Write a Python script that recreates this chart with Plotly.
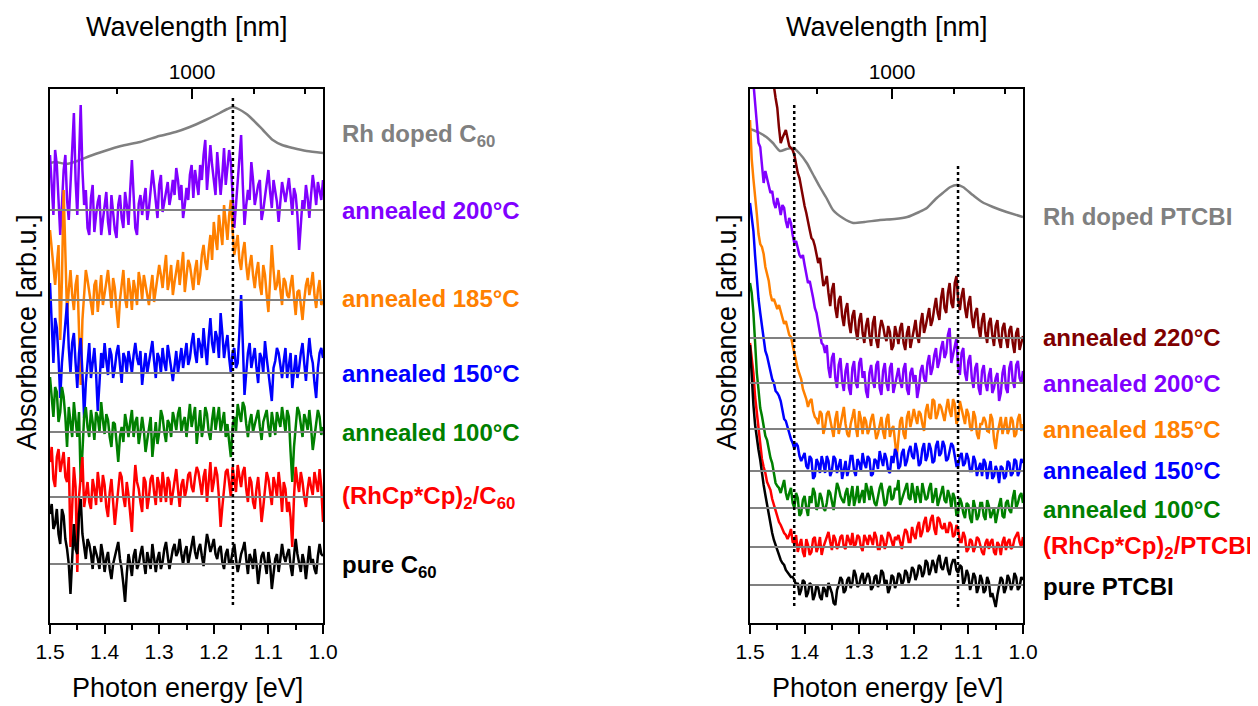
import plotly.graph_objects as go

# ---------------- data ----------------
# main sampling grid (eV) and the in-between grid
ENERGY = [1.5, 1.49375, 1.4875, 1.48125, 1.475, 1.46875, 1.4625, 1.45625, 1.45, 1.44375,
          1.4375, 1.43125, 1.425, 1.41875, 1.4125, 1.40625, 1.4, 1.39375, 1.3875, 1.38125,
          1.375, 1.36875, 1.3625, 1.35625, 1.35, 1.34375, 1.3375, 1.33125, 1.325, 1.31875,
          1.3125, 1.30625, 1.3, 1.29375, 1.2875, 1.28125, 1.275, 1.26875, 1.2625, 1.25625,
          1.25, 1.24375, 1.2375, 1.23125, 1.225, 1.21875, 1.2125, 1.20625, 1.2, 1.19375,
          1.1875, 1.18125, 1.175, 1.16875, 1.1625, 1.15625, 1.15, 1.14375, 1.1375, 1.13125,
          1.125, 1.11875, 1.1125, 1.10625, 1.1, 1.09375, 1.0875, 1.08125, 1.075, 1.06875,
          1.0625, 1.05625, 1.05, 1.04375, 1.0375, 1.03125, 1.025, 1.01875, 1.0125, 1.00625, 1.0]
ENERGY_MID = [1.496875, 1.490625, 1.484375, 1.478125, 1.471875, 1.465625, 1.459375, 1.453125, 1.446875, 1.440625,
              1.434375, 1.428125, 1.421875, 1.415625, 1.409375, 1.403125, 1.396875, 1.390625, 1.384375, 1.378125,
              1.371875, 1.365625, 1.359375, 1.353125, 1.346875, 1.340625, 1.334375, 1.328125, 1.321875, 1.315625,
              1.309375, 1.303125, 1.296875, 1.290625, 1.284375, 1.278125, 1.271875, 1.265625, 1.259375, 1.253125,
              1.246875, 1.240625, 1.234375, 1.228125, 1.221875, 1.215625, 1.209375, 1.203125, 1.196875, 1.190625,
              1.184375, 1.178125, 1.171875, 1.165625, 1.159375, 1.153125, 1.146875, 1.140625, 1.134375, 1.128125,
              1.121875, 1.115625, 1.109375, 1.103125, 1.096875, 1.090625, 1.084375, 1.078125, 1.071875, 1.065625,
              1.059375, 1.053125, 1.046875, 1.040625, 1.034375, 1.028125, 1.021875, 1.015625, 1.009375, 1.003125]

# ---- C60 panel (offset = baseline level, values = spectrum relative to its baseline) ----
C60_RH_E = [1.5, 1.49, 1.47, 1.45, 1.427, 1.40, 1.37, 1.335, 1.30, 1.27, 1.244, 1.215,
            1.189, 1.175, 1.165, 1.155, 1.14, 1.128, 1.11, 1.092, 1.075, 1.055, 1.03, 1.0]
C60_RH_Y = [460, 461, 459, 462, 467, 472, 477, 481, 487, 491, 496, 503,
            510, 514, 516, 514, 509, 503, 493, 483, 478, 475, 472, 470]

C60_OFFSETS = [413, 323, 250, 191, 126, 59]

C60_200 = [55, -5, 45, -25, 40, 10, 35, 97, -5, 105, 5, -18, 12, -22, 8, -25, 3, -12, 15, -20,
           5, -8, 18, -15, 50, -18, 6, -5, 22, 2, 40, 8, 25, -2, 18, 5, 30, 42, 10, -8,
           22, 35, 12, 28, 45, 55, 20, 65, 30, 58, 15, 62, 40, 48, -18, 30, 75, -15, 20, 48,
           5, 25, -10, 15, 40, 2, 20, -12, 28, 8, 32, -5, 15, -40, 10, 25, -8, 35, 5, 20, 30]
C60_200_MID = [20, 60, 10, 5, 55, -10, 60, 30, 60, 40, 20, -25, 25, -5, 15, -10, 18, -25, 0, -28,
               15, -18, 5, 20, 15, -25, 15, 10, -10, 20, 25, -8, 35, 10, 28, 15, 15, 30, 25, 5,
               10, 45, 40, 15, 30, 70, 42, 45, 15, 40, 35, 25, 60, 20, 5, 45, 25, 5, 10, 30,
               15, 30, 0, 25, 18, 30, 8, 10, 18, 20, 15, 22, -5, -15, 0, 12, 15, 22, 28, 10]
C60_185 = [70, 30, 35, -40, 110, -15, 30, -10, 25, -85, 10, 20, -5, 15, -12, 25, 5, 30, -8, 12,
           -28, 18, 2, 22, -10, 10, 28, 0, 15, -5, 25, 10, 35, 12, 45, 20, 5, 28, 15, 48,
           22, 35, 10, 40, 25, 55, 30, 65, 78, 50, 70, 95, 60, 100, 45, 65, 30, 58, 20, 45,
           12, 38, 5, 25, -12, 55, 10, 30, -5, 18, 2, 25, -15, 10, -20, 15, 5, 28, -8, 20, 0]
C60_185_MID = [50, 15, 55, 20, 40, 10, 5, 15, -30, -20, 30, 8, -15, 20, 10, -5, 18, 10, 22, -10,
               0, 30, -8, 10, 20, -5, 18, 25, 5, 12, -2, 22, 25, 30, 10, 35, 18, 40, 30, 8,
               40, 20, 30, 15, 45, 38, 50, 40, 62, 85, 55, 75, 85, 70, 55, 40, 48, 35, 35, 25,
               28, 15, 35, 5, 20, 30, 15, 10, 22, 5, 15, 2, 8, -5, 0, 22, 15, 5, 10, -5]
C60_150 = [90, 10, 45, -25, 30, 70, 0, 40, -15, 35, -45, 15, -5, 25, -38, 20, 30, -2, 18, 5,
           28, -10, 15, 22, 0, 30, 8, -12, 20, 10, 32, -5, 15, 25, 2, 18, -8, 22, 12, 5,
           30, 15, 40, 10, 28, 45, 8, 55, 20, 35, 60, 15, 38, 0, 25, 10, 78, -22, 20, 5,
           25, -10, 15, 32, 0, -28, 12, 20, -5, 25, 8, -15, 18, 5, 30, -8, 35, 10, -25, 20, 15]
C60_150_MID = [40, 55, 15, 10, 45, 25, 30, 10, 20, 0, -10, 30, 10, 0, -10, 5, 12, 25, -5, 20,
               8, 20, 0, 12, 18, 15, 22, 5, 0, 22, 12, 20, 0, 10, 28, 5, 10, 0, 25, 18,
               8, 30, 20, 35, 15, 25, 35, 30, 42, 15, 40, 28, 15, 20, 5, 40, 30, 0, 30, 15,
               5, 20, 0, 15, -10, 5, 25, 8, 12, -5, 20, 5, -5, 20, 10, 15, 18, -10, 5, 25]
C60_100 = [55, 15, 40, 20, 35, -15, 10, 30, -5, -50, 15, 5, 22, -8, 15, 30, -2, 12, -15, 8,
           -30, 5, 18, -5, 22, 10, -12, 15, -20, 3, -25, 10, 0, 15, -10, 8, 20, 2, 25, 10,
           -5, 28, 15, -12, 22, 5, 18, -8, 25, 12, 0, 20, 8, -25, 15, 28, 10, 25, -5, 18,
           8, 22, -8, 15, 5, 20, -3, 12, 25, 0, 15, -50, 10, 20, -5, 12, 22, -18, 8, 15, 5]
C60_100_MID = [30, 45, 10, 45, 15, 25, -5, 15, 20, -20, 25, -5, 10, 20, 0, 12, 18, -5, 10, -10,
               -5, -10, 8, 10, -5, 15, 0, 2, -8, 15, -5, -12, 22, 0, 12, -5, 12, 18, 0, 15,
               12, 5, 25, 5, -5, 25, 0, 12, 2, 25, 10, -5, -10, 5, 0, 18, 30, 8, 10, 0,
               15, 5, 10, 22, -5, 8, 20, 5, 12, 22, -20, -15, 25, 5, 18, 2, 5, -5, 22, -3]
C60_DOPED = [35, 18, 40, 25, 45, 15, -50, 30, -75, 25, -10, 15, -12, 8, 25, -5, 12, -20, 18, -28,
             5, 20, -10, 2, -35, 32, 8, -15, 15, 0, 22, -8, 12, 25, -5, 15, 5, 28, -10, 18,
             8, 25, 5, 30, 12, 20, -5, 35, 15, 22, -30, 10, 28, 0, 18, 32, 10, 30, -5, 15,
             -12, 20, -25, 5, 18, -8, 12, 25, -15, 8, -5, -50, 30, 5, 15, -10, 20, 2, 15, 28, -25]
C60_DOPED_MID = [50, 10, 48, 35, 20, 40, -10, 10, 0, 40, 5, -5, 18, -8, 10, 22, -10, 5, -5, -10,
                 25, 0, 15, -20, 5, 15, -5, 20, -12, 18, 5, 20, -5, 10, 20, -8, 20, 8, 12, 0,
                 22, 10, 20, 25, 2, 28, 18, 5, 30, 0, -10, 25, 10, 30, 5, 20, 25, 8, 20, -5,
                 8, 0, -10, 25, 5, 20, 0, 10, 15, -15, -20, 0, 15, 25, 0, 8, 10, 25, 5, 10]
C60_PURE = [50, 35, 55, 20, 48, 15, -30, 40, 10, 65, 15, 25, 10, 18, 5, 20, -8, 12, -15, 8,
            22, -5, -38, 10, -12, 15, 0, 18, -10, 5, 20, -8, 12, 2, 22, -5, 15, 8, 25, 0,
            18, 10, 28, 5, 20, -2, 30, 12, 25, 5, 18, -5, 15, 2, 20, -8, 10, 22, -10, 5,
            15, -20, 8, 0, 12, -25, 5, -8, 20, 2, 15, -12, 25, 0, 10, -15, 18, 5, -10, 20, 8]
C60_PURE_MID = [60, 40, 30, 55, 25, 0, 10, 15, 50, 30, 5, 20, -5, 12, -5, 10, 5, -5, 0, 15,
                5, -20, -10, 0, 8, -5, 10, 2, 12, -5, 8, 5, -5, 15, 8, 5, 20, 12, 10, 12,
                0, 22, 12, 15, 8, 15, 22, 18, 10, 15, 2, 10, 0, 12, 5, 0, 15, 5, 10, -5,
                0, -5, 12, -10, 0, -10, 10, 5, 8, 10, -2, 8, 10, -8, 2, 5, 0, -5, 8, 10]

C60_PEAK_E = [1.165]
C60_PEAK_Y = [525, 17]

# ---- PTCBI panel ----
PT_RH_E = [1.5, 1.49, 1.482, 1.47, 1.458, 1.445, 1.433, 1.421, 1.41, 1.396, 1.385, 1.372,
           1.36, 1.348, 1.33, 1.311, 1.29, 1.262, 1.235, 1.212, 1.19, 1.176, 1.16, 1.147,
           1.133, 1.121, 1.11, 1.092, 1.075, 1.055, 1.03, 1.0]
PT_RH_Y = [494, 492, 490, 486, 480, 472, 474, 475, 470, 460, 449, 436,
           425, 413, 405, 400, 401, 403, 404, 406, 411, 415, 424, 430,
           436, 438, 436, 428, 421, 416, 411, 406]

PT_OFFSETS = [285, 240, 194, 152, 115, 76, 38]

PT_220 = [330, 320, 310, 300, 290, 275, 262, 252, 230, 195, 205, 200, 190, 183, 165, 150, 132, 115, 100, 92,
          75, 65, 55, 45, 48, 30, 38, 22, 28, 15, 22, 8, 18, 5, 12, 3, 15, -2, 8, 12,
          -3, 6, -8, 4, 10, -5, 5, -10, 8, 2, 15, 5, 22, 12, 30, 25, 40, 30, 45, 35,
          55, 38, 42, 30, 35, 20, 25, 10, 18, 5, 15, 3, 12, -2, 10, 0, 8, -5, 5, -12, 2]
PT_220_MID = [325, 315, 305, 295, 282, 268, 258, 240, 210, 200, 208, 192, 188, 172, 160, 140, 125, 108, 98, 82,
              80, 52, 62, 32, 55, 20, 42, 12, 35, 5, 28, -2, 25, -5, 20, -8, 22, -10, 18, 2,
              12, -12, 12, -6, 15, -12, 12, -2, 18, -5, 25, 12, 30, 18, 40, 18, 50, 25, 55, 30,
              62, 28, 50, 20, 42, 10, 30, 0, 25, -5, 20, -8, 18, -10, 15, -10, 12, -15, 10, -5]
PT_200 = [320, 300, 260, 236, 200, 205, 190, 180, 185, 168, 175, 155, 160, 140, 135, 125, 118, 100, 95, 75,
          60, 40, 30, 15, 25, 5, 18, 2, 12, -5, 15, 0, 20, 5, -8, 10, 2, 18, -5, 12,
          0, 15, -10, 8, 2, 14, -6, 10, 0, -15, 12, 5, 20, 8, 28, 15, 35, 25, 48, 20,
          38, 15, 30, 10, 22, 5, 15, -5, 12, 0, 8, -10, 5, -18, 10, -5, 15, 2, 18, 5, 12]
PT_200_MID = [310, 280, 240, 215, 212, 195, 192, 175, 178, 178, 162, 165, 148, 142, 128, 128, 108, 102, 85, 70,
              48, 38, 38, 5, 30, -5, 25, -8, 20, -12, 22, -5, 25, 12, -15, 18, -5, 22, -12, 20,
              -8, 20, -2, 15, -5, 20, -12, 15, 8, -5, 18, 0, 28, 15, 35, 22, 42, 30, 55, 28,
              45, 8, 35, 2, 28, -5, 20, -12, 18, -8, 15, -5, 10, -10, 18, -10, 22, -5, 22, 0]
PT_185 = [309, 250, 215, 185, 175, 155, 135, 130, 120, 118, 105, 100, 92, 75, 60, 50, 35, 22, 30, 12,
          5, 15, 2, 18, 0, 10, -5, 15, 5, -8, 12, 2, 18, -5, 8, 0, 15, -10, 5, -3,
          10, -8, 3, -28, 8, -5, 12, 2, 20, 5, 15, -2, 25, 10, 28, 15, 22, 8, 30, 12,
          25, 10, 20, 5, 15, -2, 12, -10, 5, 8, -3, 10, -20, 5, -5, 12, 0, 8, -5, 15, 5]
PT_185_MID = [270, 235, 195, 182, 162, 148, 128, 125, 124, 110, 108, 94, 85, 68, 55, 40, 30, 28, 18, 10,
              18, -5, 15, 8, -8, 18, 5, 22, -5, 5, 20, -8, 10, 12, -5, 10, 2, -5, 12, -10,
              15, 0, -15, -10, 12, -10, 18, 10, 12, 18, 5, 18, 12, 30, 10, 25, 15, 20, 18, 30,
              5, 28, 12, 20, 2, 18, -5, 5, 12, -2, 15, -10, -5, 12, 5, -5, 12, -8, 10, -2]
PT_150 = [268, 240, 190, 158, 130, 115, 98, 88, 78, 70, 52, 45, 32, 22, 25, 10, 18, 2, 12, -5,
          8, 15, -2, 10, 0, 12, 4, -8, 10, 2, 15, -5, 8, 18, 3, 12, -3, 10, 20, 5,
          12, -2, 8, 18, 5, 22, 10, 25, 12, 20, 8, 28, 15, 22, 10, 30, 18, 25, 12, 28,
          15, 5, 18, 8, 12, 0, 10, 3, -5, 8, 2, -8, 5, -12, 3, -5, 8, -2, 10, 0, 8]
PT_150_MID = [255, 215, 172, 145, 120, 108, 92, 80, 75, 60, 50, 38, 28, 28, 15, 15, 5, 15, -8, 12,
              -2, 8, 15, -5, 15, -2, 12, 2, -5, 15, 0, 12, 0, 8, 15, -5, 12, 2, 12, 18,
              0, 15, 22, 2, 18, 5, 20, 15, 28, 5, 22, 10, 28, 8, 25, 15, 30, 10, 20, 25,
              5, 15, 5, 18, 0, 15, -5, 8, 12, -8, 10, -5, 0, 5, -8, 10, -5, 12, -5, 12]
PT_100 = [225, 195, 135, 100, 80, 68, 50, 35, 22, 15, 28, 8, 20, 0, 10, -5, 12, -8, 5, 15,
          2, 10, -3, 18, 5, 12, 20, 8, 15, 2, 22, 10, 5, 18, 25, 8, 15, 2, 20, 12,
          5, 22, 10, 18, 3, 15, 25, 8, 15, 22, 5, 18, 10, 25, 12, 2, 15, 8, 18, 0,
          10, -5, 5, -10, 3, -15, 0, -8, 5, -12, 2, -5, -15, 3, -8, 5, -2, 10, 0, 12, 5]
PT_100_MID = [215, 160, 118, 92, 72, 58, 45, 25, 20, 22, 15, 15, 5, 15, -8, 8, 0, 12, 20, -2,
              15, 0, 5, 15, -2, 25, 12, 5, 20, 12, 2, 22, 12, 5, 18, 22, 5, 12, 25, 2,
              18, 8, 20, 28, 8, 20, 10, 25, 5, 15, 25, 8, 20, 5, 20, 10, 22, 5, 12, 15,
              -8, 10, -5, 5, -10, 8, -12, 5, -8, 8, -10, 0, -5, 10, -10, 8, -5, 18, 5, 15]
PT_DOPED = [204, 174, 135, 100, 80, 65, 57, 42, 30, 22, 14, 8, 18, 4, -5, 8, -10, 2, -5, 10,
            0, -8, 5, 15, -3, 8, 2, 12, -2, 6, 14, 3, 10, -4, 8, 12, 2, 10, -2, 8,
            4, 12, 0, 8, 3, 10, 15, 5, 12, 20, 10, 25, 15, 28, 18, 30, 20, 24, 15, 22,
            12, 18, 5, 10, -2, 6, 0, 8, -5, 4, -2, 8, -8, 2, 5, -3, 8, 0, 12, 5, 10]
PT_DOPED_MID = [190, 150, 118, 88, 74, 60, 48, 38, 25, 18, 12, 12, 5, 12, 2, -5, 8, -8, 8, -5,
                10, 0, 8, 5, 12, -2, 10, 0, 12, 2, 0, 12, 0, 12, 2, 8, 15, -2, 12, -2,
                15, 5, 10, 12, -2, 18, 5, 20, 8, 25, 15, 30, 18, 32, 12, 28, 18, 15, 25, 10,
                22, 5, 15, -5, 8, -5, 10, 2, -8, 8, 5, -5, 5, -8, 10, 5, -2, 8, 15, 0]
PT_PURE = [240, 180, 145, 125, 100, 80, 62, 45, 35, 25, 20, 13, 8, 5, 2, -5, 3, -8, 0, -10,
           -3, -15, -5, 2, -8, -20, 0, 5, -5, 8, 2, 10, 0, 12, 5, 8, -2, 10, 3, 12,
           5, -3, 8, 2, 10, 4, 12, 8, 15, 10, 18, 12, 22, 15, 20, 25, 18, 22, 15, 20,
           25, 12, 18, 5, 10, 2, 8, -2, 5, -5, 3, -8, -22, 0, 5, -3, 6, 0, 8, -2, 5]
PT_PURE_MID = [205, 160, 135, 110, 90, 70, 52, 40, 28, 22, 15, 10, 8, 0, -10, 5, -12, 2, -15, 0,
               -12, -2, -12, -3, -18, -5, 8, -8, 5, -3, 15, -2, 8, 0, 12, -5, 8, -2, 15, 0,
               -8, 10, -3, 12, 0, 15, 2, 18, 5, 20, 8, 25, 10, 25, 12, 30, 15, 28, 10, 25,
               15, 20, 0, 15, -5, 12, -8, 10, -8, 8, -12, -15, -10, 8, -8, 10, -5, 12, -5, 8]

PT_PEAK_E = [1.419, 1.119]
PT_PEAK_Y = [[518, 17], [457, 16]]

C60_LABELS = ["Rh doped C<sub>60</sub>", "annealed 200°C", "annealed 185°C", "annealed 150°C",
              "annealed 100°C", "(RhCp*Cp)<sub>2</sub>/C<sub>60</sub>", "pure C<sub>60</sub>"]
PT_LABELS = ["Rh doped PTCBI", "annealed 220°C", "annealed 200°C", "annealed 185°C", "annealed 150°C",
             "annealed 100°C", "(RhCp*Cp)<sub>2</sub>/PTCBI", "pure PTCBI"]

WL_MAJOR = [1000]
WL_MINOR = [900, 1100, 1200]

# ---------------- styling ----------------
# page body has an 8px margin -> figure is 1250x698 placed at (8, 8)
OX, OY = 8, 8
W, H = 1250, 698
FONT = "Liberation Sans, Arial, sans-serif"
GRAY = "#808080"
C60_COLORS = ["#8000FF", "#FF8000", "#0000FF", "#008000", "#FF0000", "#000000"]
PT_COLORS = ["#800000", "#8000FF", "#FF8000", "#0000FF", "#008000", "#FF0000", "#000000"]

C60_LABEL_PY = [136, 211, 299, 374, 432, 497, 566]
PT_LABEL_PY = [217, 337, 383, 429, 470, 509, 547, 586]


def px2x(px):
    return (px - OX) / W


def py2y(py):
    return 1 - (py - OY) / H


def merged(main, mid):
    pts = sorted(list(zip(ENERGY, main)) + list(zip(ENERGY_MID, mid)), reverse=True)
    return [p[0] for p in pts], [p[1] for p in pts]


fig = go.Figure()


def add_panel(xa, ya, rh_e, rh_y, series, offsets, colors):
    fig.add_trace(go.Scatter(x=rh_e, y=rh_y, mode="lines", xaxis=xa, yaxis=ya,
                             line=dict(color=GRAY, width=2.5, shape="spline", smoothing=0.6)))
    for (main, mid), off, col in zip(series, offsets, colors):
        ex, dev = merged(main, mid)
        fig.add_trace(go.Scatter(x=ex, y=[off + d for d in dev], mode="lines",
                                 xaxis=xa, yaxis=ya, line=dict(color=col, width=2.5)))
    for off in offsets:
        fig.add_trace(go.Scatter(x=[ENERGY[0], ENERGY[-1]], y=[off, off], mode="lines",
                                 xaxis=xa, yaxis=ya, line=dict(color=GRAY, width=2)))


add_panel("x", "y", C60_RH_E, C60_RH_Y,
          [(C60_200, C60_200_MID), (C60_185, C60_185_MID), (C60_150, C60_150_MID),
           (C60_100, C60_100_MID), (C60_DOPED, C60_DOPED_MID), (C60_PURE, C60_PURE_MID)],
          C60_OFFSETS, C60_COLORS)
add_panel("x2", "y2", PT_RH_E, PT_RH_Y,
          [(PT_220, PT_220_MID), (PT_200, PT_200_MID), (PT_185, PT_185_MID), (PT_150, PT_150_MID),
           (PT_100, PT_100_MID), (PT_DOPED, PT_DOPED_MID), (PT_PURE, PT_PURE_MID)],
          PT_OFFSETS, PT_COLORS)

for e in C60_PEAK_E:
    fig.add_trace(go.Scatter(x=[e, e], y=C60_PEAK_Y, mode="lines", xaxis="x", yaxis="y",
                             line=dict(color="black", width=2.5, dash="dot")))
for e, yy in zip(PT_PEAK_E, PT_PEAK_Y):
    fig.add_trace(go.Scatter(x=[e, e], y=yy, mode="lines", xaxis="x2", yaxis="y2",
                             line=dict(color="black", width=2.5, dash="dot")))

# invisible traces so the top (wavelength) axes get drawn
for xa, ya, off in [("x3", "y", C60_OFFSETS[0]), ("x4", "y2", PT_OFFSETS[0])]:
    fig.add_trace(go.Scatter(x=[ENERGY[0], ENERGY[-1]], y=[off, off], mode="lines",
                             xaxis=xa, yaxis=ya, line=dict(color="rgba(0,0,0,0)", width=0)))

# ---------------- axes ----------------
XD1 = [px2x(50), px2x(323)]
XD2 = [px2x(750), px2x(1023)]
YD = [py2y(623), py2y(89)]


def bottom_axis(domain, anchor):
    return dict(domain=domain, anchor=anchor, range=[1.5, 1.0], tickmode="array",
                tickvals=[1.5, 1.4, 1.3, 1.2, 1.1, 1.0], tickformat=".1f",
                ticks="outside", ticklen=9, tickwidth=2, tickcolor="black",
                minor=dict(tickmode="array", tickvals=[1.45, 1.35, 1.25, 1.15, 1.05],
                           ticks="outside", ticklen=5, tickwidth=2, tickcolor="black"),
                showline=True, linewidth=2, linecolor="black", showgrid=False, zeroline=False,
                automargin=False,
                tickfont=dict(family=FONT, size=21, color="black"))


def top_axis(overlay, anchor):
    return dict(overlaying=overlay, anchor=anchor, side="top", range=[1.5, 1.0],
                tickmode="array", tickvals=[1239.84 / w for w in WL_MAJOR],
                ticktext=[str(w) for w in WL_MAJOR],
                ticks="inside", ticklen=10, tickwidth=2, tickcolor="black",
                minor=dict(tickmode="array", tickvals=[1239.84 / w for w in WL_MINOR],
                           ticks="inside", ticklen=5, tickwidth=2, tickcolor="black"),
                showline=True, linewidth=2, linecolor="black", showgrid=False, zeroline=False,
                automargin=False,
                tickfont=dict(family=FONT, size=21, color="black"))


def y_axis(anchor):
    return dict(domain=YD, anchor=anchor, range=[0, 534], showline=True, mirror=True,
                linewidth=2, linecolor="black", ticks="", showticklabels=False,
                showgrid=False, zeroline=False, automargin=False)


annotations = []


def ann(px, py, text, size, color="black", bold=False, xanchor="center", angle=0):
    if bold:
        text = "<b>" + text + "</b>"
    annotations.append(dict(x=px2x(px), y=py2y(py), xref="paper", yref="paper", text=text,
                            showarrow=False, xanchor=xanchor, yanchor="middle",
                            textangle=angle,
                            font=dict(family=FONT, size=size, color=color)))


for cx in [187, 887]:
    ann(cx, 27, "Wavelength [nm]", 27)
for cx in [187, 887]:
    ann(cx, 688, "Photon energy [eV]", 27)
for cx in [27, 727]:
    ann(cx, 332, "Absorbance [arb.u.]", 27, angle=-90)

c60_label_colors = [GRAY] + C60_COLORS
for t, py, col in zip(C60_LABELS, C60_LABEL_PY, c60_label_colors):
    ann(340, py, t, 24, color=col, bold=True, xanchor="left")
pt_label_colors = [GRAY] + PT_COLORS
for t, py, col in zip(PT_LABELS, PT_LABEL_PY, pt_label_colors):
    ann(1041, py, t, 24, color=col, bold=True, xanchor="left")

fig.update_layout(
    template="none",
    width=W, height=H, margin=dict(l=0, r=0, t=0, b=0, pad=0), autosize=False,
    paper_bgcolor="white", plot_bgcolor="white",
    xaxis=bottom_axis(XD1, "y"), yaxis=y_axis("x"),
    xaxis2=bottom_axis(XD2, "y2"), yaxis2=y_axis("x2"),
    xaxis3=top_axis("x", "y"), xaxis4=top_axis("x2", "y2"),
    annotations=annotations, showlegend=False, hovermode=False,
    font=dict(family=FONT),
)

fig.write_html("out.html")
